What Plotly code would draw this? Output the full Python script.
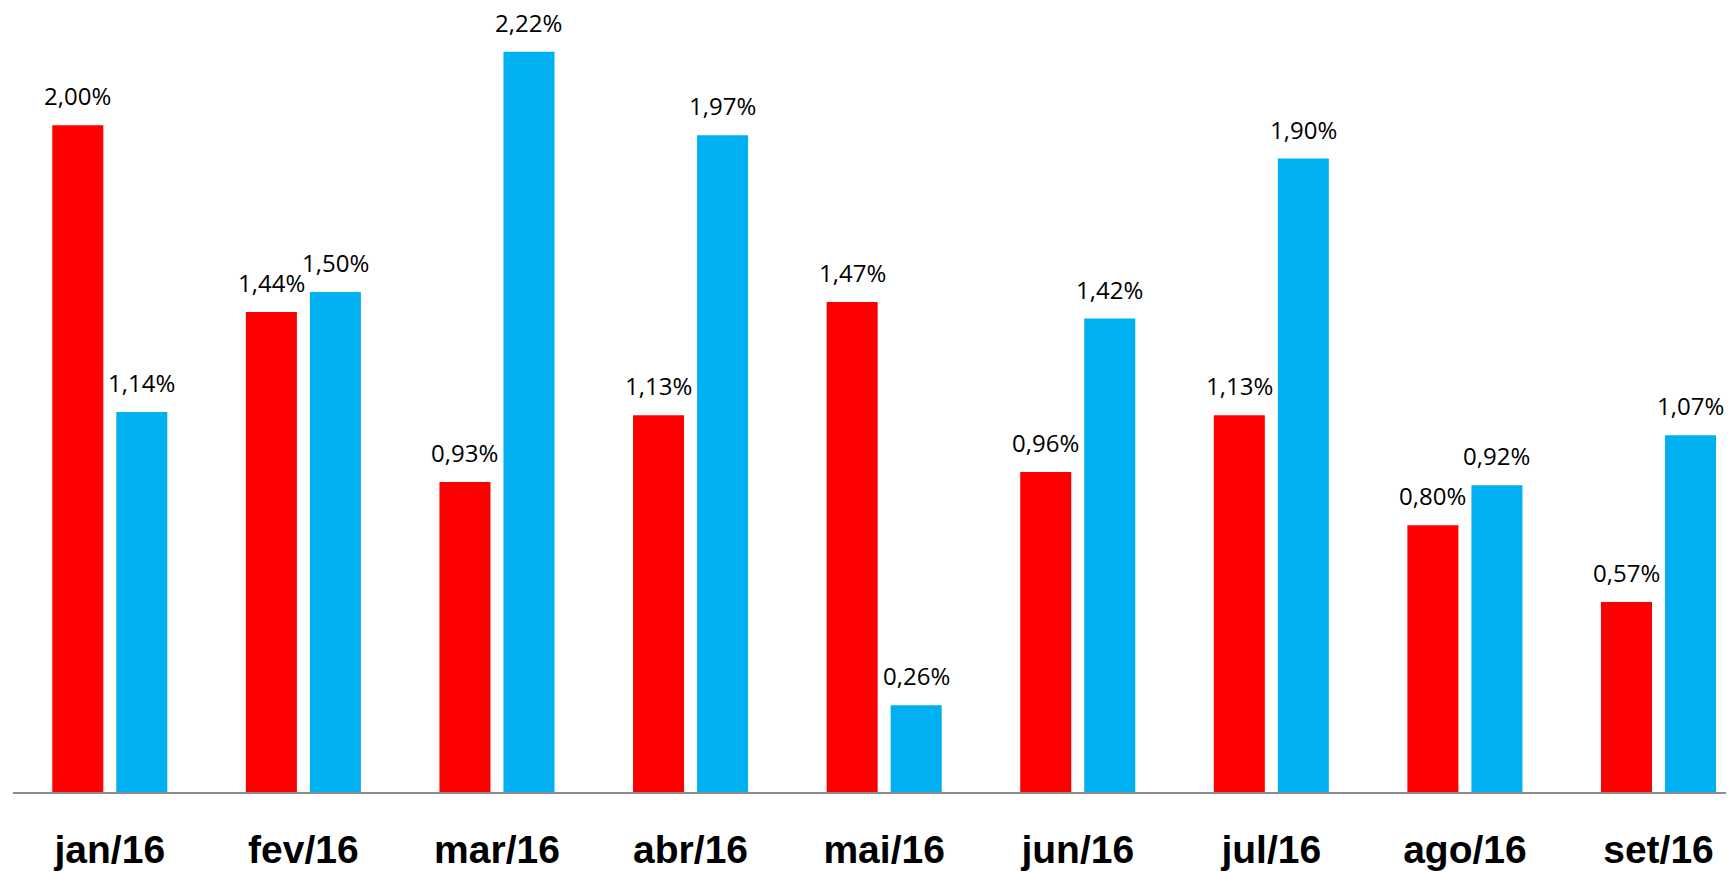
import plotly.graph_objects as go

categories = ["jan/16", "fev/16", "mar/16", "abr/16", "mai/16", "jun/16", "jul/16", "ago/16", "set/16"]
red_values = [2.00, 1.44, 0.93, 1.13, 1.47, 0.96, 1.13, 0.80, 0.57]
blue_values = [1.14, 1.50, 2.22, 1.97, 0.26, 1.42, 1.90, 0.92, 1.07]

RED = "#FF0000"
BLUE = "#00B0F0"

def fmt(v):
    return f"{v:.2f}".replace(".", ",") + "%"

fig = go.Figure()
fig.add_trace(go.Bar(x=categories, y=red_values, marker_color=RED, marker_line_width=0, name="A"))
fig.add_trace(go.Bar(x=categories, y=blue_values, marker_color=BLUE, marker_line_width=0, name="B"))

annotations = []
for vals, shift in ((red_values, -32), (blue_values, 32)):
    for c, v in zip(categories, vals):
        annotations.append(dict(
            x=c, y=v, xref="x", yref="y", text=fmt(v), showarrow=False,
            xanchor="center", yanchor="bottom", xshift=shift, yshift=11,
            font=dict(family="Open Sans", size=24, color="#000000"),
        ))

fig.update_layout(
    width=1726, height=864,
    margin=dict(l=5, r=0, t=0, b=80),
    paper_bgcolor="white", plot_bgcolor="white",
    barmode="group", bargap=0.3385, bargroupgap=0.203,
    showlegend=False,
    annotations=annotations,
    xaxis=dict(
        type="category", range=[-0.5, 8.39],
        showline=True, linecolor="#8C8C8C", linewidth=2,
        showgrid=False, zeroline=False, ticks="",
        tickfont=dict(family="Liberation Sans", size=39, color="#000000", weight="bold"),
        ticklabelstandoff=22,
    ),
    yaxis=dict(
        range=[0, 2.3515], visible=False, showgrid=False, zeroline=False,
    ),
)

fig.write_html("out.html")
